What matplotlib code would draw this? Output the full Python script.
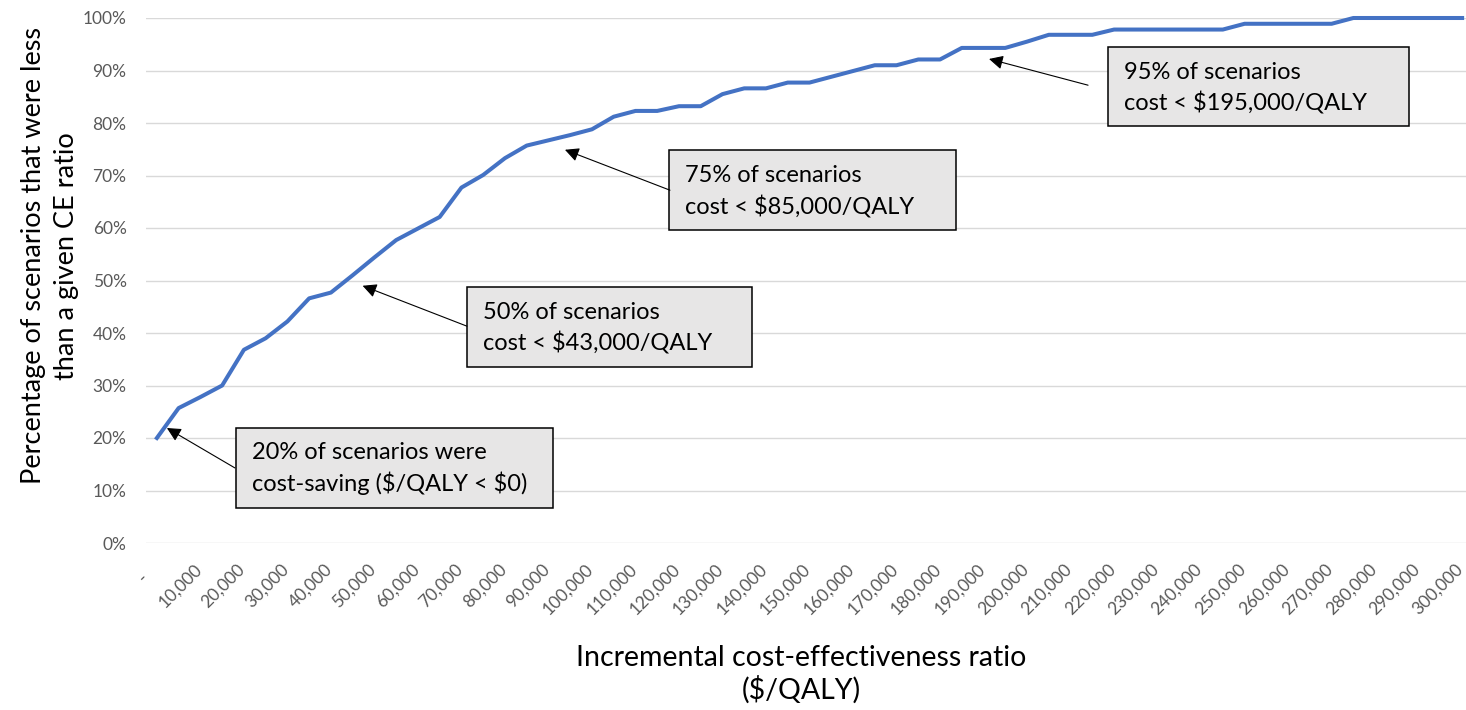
import matplotlib.pyplot as plt
import matplotlib.transforms as mtransforms
import numpy as np
from matplotlib.patches import Rectangle
from matplotlib.ticker import PercentFormatter

plt.rcParams['font.family'] = ['Lato', 'DejaVu Sans']

# CE ratio thresholds ($/QALY), every 5,000 from 0 to 300,000
ce_ratio = np.arange(0, 300001, 5000)

# cumulative % of scenarios below each threshold
pct_below = [20.0, 25.7, 27.8, 30.0, 36.8, 39.0, 42.2, 46.6, 47.7, 51.0,
             54.4, 57.7, 59.9, 62.1, 67.7, 70.1, 73.3, 75.7, 76.7, 77.7,
             78.8, 81.2, 82.3, 82.3, 83.2, 83.2, 85.5, 86.6, 86.6, 87.7,
             87.7, 88.8, 89.9, 91.0, 91.0, 92.1, 92.1, 94.3, 94.3, 94.3,
             95.5, 96.8, 96.8, 96.8, 97.8, 97.8, 97.8, 97.8, 97.8, 97.8,
             98.9, 98.9, 98.9, 98.9, 98.9, 100.0, 100.0, 100.0, 100.0, 100.0,
             100.0]

tick_values = np.arange(0, 300001, 10000)
tick_labels = ['-   '] + [f'{v:,}' for v in tick_values[1:]]

# callouts: text, box (x0, x1, y0, y1), text anchor, arrow tail, arrow tip
callouts = [
    ('20% of scenarios were\ncost-saving (\\$/QALY < \\$0)',
     (18161, 91034, 6.7, 21.9), (21839, 14.2), (17931, 14.3), (2299, 21.9)),
    ('50% of scenarios\ncost < \\$43,000/QALY',
     (71264, 136782, 33.5, 48.8), (74943, 40.9), (71264, 41.3), (47287, 49.0)),
    ('75% of scenarios\ncost < \\$85,000/QALY',
     (117701, 183678, 59.6, 74.9), (121379, 66.9), (117931, 67.2), (93793, 74.9)),
    ('95% of scenarios\ncost < \\$195,000/QALY',
     (218621, 287816, 79.4, 94.5), (222299, 86.7), (214023, 87.2), (191264, 92.2)),
]

fig = plt.figure(figsize=(14.66, 7.10), dpi=100)
ax = fig.add_axes([146 / 1466, 167 / 710, 1327 / 1466, 525 / 710])

ax.plot(ce_ratio, pct_below, color='#4472C4', lw=2.9, clip_on=False, zorder=3)

ax.set_xlim(-2500, 302500)
ax.set_ylim(0, 100)
ax.set_yticks(np.arange(0, 101, 10))
ax.yaxis.set_major_formatter(PercentFormatter(100, decimals=0))
ax.set_xticks(tick_values)
ax.set_xticklabels(tick_labels, rotation=45, ha='right', va='top',
                   rotation_mode='anchor')
ax.tick_params(axis='both', length=0, labelsize=12.5, labelcolor='#595959')
ax.tick_params(axis='x', pad=13)
ax.tick_params(axis='y', pad=14)

# nudge rotated labels left so they sit like the original
shift = mtransforms.ScaledTranslation(-7 / 100, 0, fig.dpi_scale_trans)
for lbl in ax.get_xticklabels():
    lbl.set_transform(lbl.get_transform() + shift)

ax.yaxis.grid(True, color='#d9d9d9', lw=1.0)
ax.set_axisbelow(True)
for s in ax.spines.values():
    s.set_visible(False)

# callout boxes with arrows
for text, (x0, x1, y0, y1), (tx, ty), tail, tip in callouts:
    ax.add_patch(Rectangle((x0, y0), x1 - x0, y1 - y0, facecolor='#e7e6e6',
                           edgecolor='black', lw=1.1, zorder=4, clip_on=False))
    ax.text(tx, ty, text, ha='left', va='center', fontsize=17,
            linespacing=1.45, zorder=5)
    ax.annotate('', xy=tip, xytext=tail,
                arrowprops=dict(arrowstyle='-|>,head_length=0.6,head_width=0.3',
                                mutation_scale=14, lw=0.8, color='black',
                                shrinkA=0, shrinkB=0), zorder=5)

fig.text(801 / 1466, 1 - 674 / 710,
         'Incremental cost-effectiveness ratio\n(\\$/QALY)',
         ha='center', va='center', fontsize=20.5, linespacing=1.2)
fig.text(50 / 1466, 1 - 256 / 710,
         'Percentage of scenarios that were less\nthan a given CE ratio',
         ha='center', va='center', rotation=90, fontsize=19.5, linespacing=1.4)

fig.savefig('out.png', dpi=100)
